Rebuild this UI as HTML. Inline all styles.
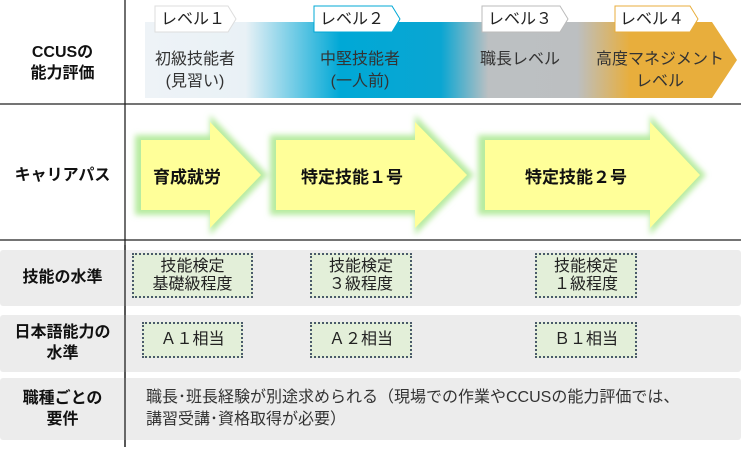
<!DOCTYPE html>
<html><head><meta charset="utf-8"><style>
*{margin:0;padding:0;box-sizing:border-box}
body{width:741px;height:450px;background:#fff;position:relative;overflow:hidden;font-family:"Liberation Sans","Noto Sans CJK JP",sans-serif;color:#222}
.a{position:absolute}
.lab{position:absolute;left:0;width:125px;text-align:center;font-weight:bold;font-size:16px;line-height:21px;color:#111}
.row{position:absolute;left:0;width:741px;background:#ececec;border-radius:3px}
.box{position:absolute;background:#e3efd9;border:2px dotted #4a5a6a;text-align:center;font-size:16px;line-height:18px;color:#222}
.lv{position:absolute;text-align:center;font-size:16px;line-height:22px;color:#333}
.at{position:absolute;font-weight:bold;font-size:17px;color:#111}
</style></head><body>
<svg class="a" style="left:0;top:0" width="741" height="450">
<defs>
<linearGradient id="g" x1="0" x2="1">
<stop offset="0" stop-color="#eef3f7"/><stop offset="0.17" stop-color="#e9f1f6"/>
<stop offset="0.33" stop-color="#00a8d6"/><stop offset="0.5" stop-color="#0aa6d2"/>
<stop offset="0.58" stop-color="#bcc0c2"/><stop offset="0.73" stop-color="#bcbfc1"/>
<stop offset="0.82" stop-color="#e8ae3c"/><stop offset="1" stop-color="#e8ae3c"/>
</linearGradient>
<filter id="bl"><feGaussianBlur stdDeviation="3"/></filter>
</defs>
<polygon points="145,22 712,22 737,60 712,98 145,98" fill="url(#g)"/>
<g fill="#b7eba0" filter="url(#bl)">
<polygon points="135,135 210,135 210,115 268,175 210,235 210,215 135,215"/>
<polygon points="270,135 415,135 415,115 474,175 415,235 415,215 270,215"/>
<polygon points="478,135 650,135 650,115 706,175 650,235 650,215 478,215"/>
</g>
<g fill="#ffff99">
<polygon points="141,140 210,140 210,122 261,175 210,228 210,210 141,210"/>
<polygon points="276,140 415,140 415,122 467,175 415,228 415,210 276,210"/>
<polygon points="485,140 650,140 650,122 700,175 650,228 650,210 485,210"/>
</g>
<line x1="125" y1="0" x2="125" y2="447" stroke="#222" stroke-width="1.3"/>
<line x1="0" y1="104" x2="741" y2="104" stroke="#222" stroke-width="1.3"/>
<line x1="0" y1="240" x2="741" y2="240" stroke="#222" stroke-width="1.3"/>
<g fill="#fff" stroke-width="1">
<polygon points="155,6 228,6 236,19 228,32 155,32" stroke="#ddd"/>
<polygon points="314,6 392,6 400,19 392,32 314,32" stroke="#00a8d6"/>
<polygon points="482,6 560,6 568,19 560,32 482,32" stroke="#bbb"/>
<polygon points="615,6 690,6 698,19 690,32 615,32" stroke="#e8ae3c"/>
</g>
</svg>
<div class="a" style="left:161px;top:6px;font-size:16px;line-height:27px">レベル１</div>
<div class="a" style="left:320px;top:6px;font-size:16px;line-height:27px">レベル２</div>
<div class="a" style="left:488px;top:6px;font-size:16px;line-height:27px">レベル３</div>
<div class="a" style="left:620px;top:6px;font-size:16px;line-height:27px">レベル４</div>
<div class="lv" style="left:135px;top:49px;width:120px">初級技能者<br>(見習い)</div>
<div class="lv" style="left:295px;top:49px;width:130px">中堅技能者<br>(一人前)</div>
<div class="lv" style="left:455px;top:49px;width:130px">職長レベル</div>
<div class="lv" style="left:585px;top:49px;width:150px">高度マネジメント<br>レベル</div>
<div class="lab" style="top:42px">CCUSの<br>能力評価</div>
<div class="lab" style="top:165px">キャリアパス</div>
<div class="at" style="left:153px;top:163px">育成就労</div>
<div class="at" style="left:301px;top:163px">特定技能１号</div>
<div class="at" style="left:525px;top:163px">特定技能２号</div>
<div class="row" style="top:250px;height:56px"></div>
<div class="row" style="top:315px;height:57px"></div>
<div class="row" style="top:378px;height:62px"></div>
<svg class="a" style="left:0;top:0" width="741" height="450"><line x1="125" y1="245" x2="125" y2="447" stroke="#222" stroke-width="1.3"/></svg>
<div class="lab" style="top:267px">技能の水準</div>
<div class="lab" style="top:322px">日本語能力の<br>水準</div>
<div class="lab" style="top:388px">職種ごとの<br>要件</div>
<div class="box" style="left:132px;top:253px;width:121px;height:45px;padding-top:3px">技能検定<br>基礎級程度</div>
<div class="box" style="left:310px;top:253px;width:102px;height:45px;padding-top:3px">技能検定<br>３級程度</div>
<div class="box" style="left:535px;top:253px;width:102px;height:45px;padding-top:3px">技能検定<br>１級程度</div>
<div class="box" style="left:142px;top:322px;width:101px;height:36px;line-height:32px">Ａ１相当</div>
<div class="box" style="left:310px;top:322px;width:102px;height:36px;line-height:32px">Ａ２相当</div>
<div class="box" style="left:535px;top:322px;width:102px;height:36px;line-height:32px">Ｂ１相当</div>
<div class="a" style="left:146px;top:387px;font-size:16px;line-height:22px;color:#333;white-space:nowrap">職長･班長経験が別途求められる（現場での作業やCCUSの能力評価では、<br>講習受講･資格取得が必要）</div>
</body></html>
